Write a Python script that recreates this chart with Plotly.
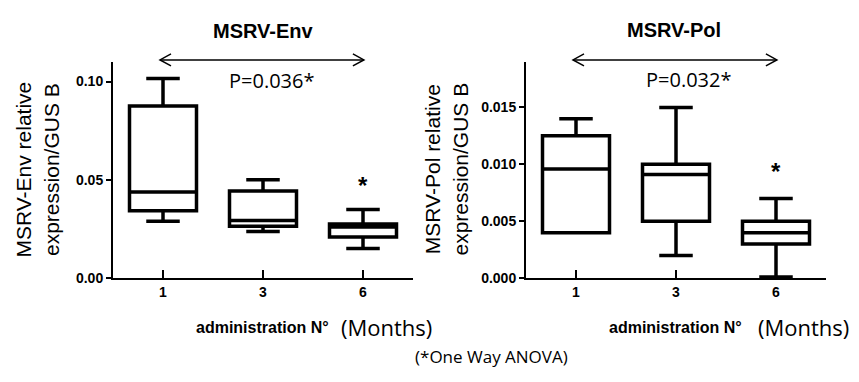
import plotly.graph_objects as go

W, H = 859, 382

categories = ["1", "3", "6"]

# MSRV-Env (relative expression / GUS B)
env_lower = [0.0289, 0.0237, 0.0151]
env_q1 = [0.0343, 0.0264, 0.0209]
env_median = [0.0438, 0.0293, 0.0261]
env_q3 = [0.0876, 0.0443, 0.0276]
env_upper = [0.1015, 0.0500, 0.0350]

# MSRV-Pol (relative expression / GUS B)
pol_lower = [0.0040, 0.0020, 0.0001]
pol_q1 = [0.0040, 0.0050, 0.0030]
pol_median = [0.0096, 0.0091, 0.0040]
pol_q3 = [0.0125, 0.0100, 0.0050]
pol_upper = [0.0140, 0.0150, 0.0070]

env_ticks = [0.0, 0.05, 0.10]
pol_ticks = [0.0, 0.005, 0.010, 0.015]

titles = ["MSRV-Env", "MSRV-Pol"]
pvalues = ["P=0.036*", "P=0.032*"]
ytitles = ["MSRV-Env relative<br>expression/GUS B", "MSRV-Pol relative<br>expression/GUS B"]

xpos = list(range(len(categories)))

def px(x):
    return x / W

def py(y):
    return 1 - y / H

fig = go.Figure()

fig.add_trace(go.Box(
    x=xpos, q1=env_q1, median=env_median, q3=env_q3,
    lowerfence=env_lower, upperfence=env_upper,
    width=0.67, whiskerwidth=0.5, boxpoints=False,
    line=dict(color="black", width=3.5), fillcolor="white",
    xaxis="x", yaxis="y", showlegend=False, hoverinfo="y"))

fig.add_trace(go.Box(
    x=xpos, q1=pol_q1, median=pol_median, q3=pol_q3,
    lowerfence=pol_lower, upperfence=pol_upper,
    width=0.67, whiskerwidth=0.5, boxpoints=False,
    line=dict(color="black", width=3.5), fillcolor="white",
    xaxis="x2", yaxis="y2", showlegend=False, hoverinfo="y"))

tickfont = dict(family="Liberation Sans", size=14, color="black", weight="bold")
ydom = [py(276), py(55)]

xcommon = dict(range=[-0.5, 2.5], tickvals=xpos, ticktext=categories,
               showline=True, linewidth=2, linecolor="black",
               ticks="inside", ticklen=8, tickwidth=2, tickcolor="black",
               showgrid=False, zeroline=False, tickfont=tickfont, fixedrange=True)
ycommon = dict(showline=True, linewidth=2, linecolor="black",
               ticks="outside", ticklen=5, tickwidth=2, tickcolor="black",
               showgrid=False, zeroline=False, tickfont=tickfont, domain=ydom)

fig.update_layout(
    width=W, height=H,
    margin=dict(l=0, r=0, t=0, b=0),
    paper_bgcolor="white", plot_bgcolor="white",
    boxmode="overlay",
    xaxis=dict(domain=[px(105), px(405)], anchor="y", **xcommon),
    yaxis=dict(range=[0, 0.11], tickvals=env_ticks, tickformat=".2f", anchor="x", **ycommon),
    xaxis2=dict(domain=[px(518), px(818)], anchor="y2", **xcommon),
    yaxis2=dict(range=[0, 0.019], tickvals=pol_ticks, tickformat=".3f", anchor="x2", **ycommon),
)

ann = []
title_font = dict(family="Liberation Sans", size=20, color="black", weight="bold")
p_font = dict(family="Open Sans", size=20, color="black")
yt_font = dict(family="Liberation Sans", size=21, color="black")
xt_font = dict(family="Liberation Sans", size=16, color="black", weight="bold")
mo_font = dict(family="Open Sans", size=22, color="black")

title_xy = [(255, 23), (666, 22)]
p_xy = [(263, 74), (680, 73)]
yt_xy = [(29, 165), (438, 165)]
xt_xy = [(254, 326), (667, 326)]
mo_xy = [(378, 326), (795, 326)]

for i in range(2):
    ann.append(dict(text=titles[i], x=px(title_xy[i][0]), y=py(title_xy[i][1]), xref="paper", yref="paper",
                    xanchor="center", yanchor="middle", showarrow=False, font=title_font))
    ann.append(dict(text=pvalues[i], x=px(p_xy[i][0]), y=py(p_xy[i][1]), xref="paper", yref="paper",
                    xanchor="center", yanchor="middle", showarrow=False, font=p_font))
    ann.append(dict(text=ytitles[i], x=px(yt_xy[i][0]), y=py(yt_xy[i][1]), xref="paper", yref="paper",
                    xanchor="center", yanchor="middle", showarrow=False, font=yt_font, textangle=-90))
    ann.append(dict(text="administration N°", x=px(xt_xy[i][0]), y=py(xt_xy[i][1]), xref="paper", yref="paper",
                    xanchor="center", yanchor="middle", showarrow=False, font=xt_font))
    ann.append(dict(text="(Months)", x=px(mo_xy[i][0]), y=py(mo_xy[i][1]), xref="paper", yref="paper",
                    xanchor="center", yanchor="middle", showarrow=False, font=mo_font))

# significance asterisks above the 6-month boxes
star_font = dict(family="Liberation Sans", size=24, color="black", weight="bold")
ann.append(dict(text="*", x=2, y=0.0472, xref="x", yref="y", showarrow=False, font=star_font))
ann.append(dict(text="*", x=2, y=0.00935, xref="x2", yref="y2", showarrow=False, font=star_font))

ann.append(dict(text="(*One Way ANOVA)", x=px(483), y=py(356), xref="paper", yref="paper",
                xanchor="center", yanchor="middle", showarrow=False,
                font=dict(family="Open Sans", size=17, color="black")))

fig.update_layout(annotations=ann)

# double-headed arrows from month 1 to month 6
shapes = []
arrow_y = py(53)
for xr in ["x domain", "x2 domain"]:
    x_start = (xpos[0] + 0.5) / len(categories)
    x_end = (xpos[-1] + 0.5) / len(categories)
    shapes.append(dict(type="line", xref=xr, yref="paper", x0=x_start - 0.01, x1=x_end + 0.003,
                       y0=arrow_y, y1=arrow_y, line=dict(color="black", width=1.5)))
    shapes.append(dict(type="path", xref=xr, yref="paper", xsizemode="pixel", ysizemode="pixel",
                       xanchor=x_start - 0.01, yanchor=arrow_y, path="M 11,6 L 0,0 L 11,-6",
                       line=dict(color="black", width=1.5)))
    shapes.append(dict(type="path", xref=xr, yref="paper", xsizemode="pixel", ysizemode="pixel",
                       xanchor=x_end + 0.003, yanchor=arrow_y, path="M -11,6 L 0,0 L -11,-6",
                       line=dict(color="black", width=1.5)))
fig.update_layout(shapes=shapes)

fig.write_html("out.html")
